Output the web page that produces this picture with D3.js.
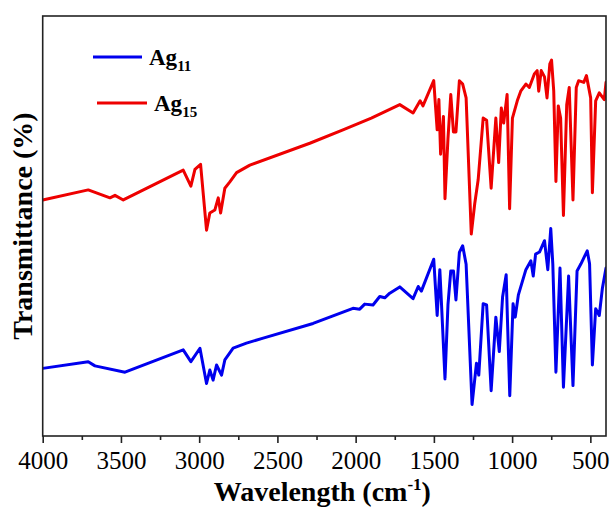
<!DOCTYPE html>
<html>
<head>
<meta charset="utf-8">
<script src="https://cdn.jsdelivr.net/npm/d3@7"></script>
<style>
  html, body { margin: 0; padding: 0; background: #fff; }
  svg { display: block; }
  text { font-family: "Liberation Serif", "Times New Roman", serif; fill: #000; }
</style>
</head>
<body>
<svg id="chart" width="613" height="509"></svg>
<script>
// FTIR spectra of the two silver clusters (offset transmittance, a.u.)
const wavenumbersAg15 = [4000, 3709, 3570, 3538, 3485, 3102, 3053, 3027, 2991, 2953, 2932, 2900, 2878, 2863, 2836, 2804, 2761, 2676, 2293, 2081, 1900, 1718, 1633, 1588, 1570, 1501, 1479, 1468, 1457, 1439, 1429, 1410, 1392, 1375, 1359, 1337, 1316, 1294, 1261, 1239, 1217, 1185, 1163, 1134, 1104, 1086, 1069, 1054, 1032, 1016, 998, 967, 945, 912, 890, 858, 840, 830, 814, 793, 777, 759, 748, 734, 720, 705, 690, 672, 651, 635, 611, 590, 575, 542, 525, 498, 487, 466, 443, 411, 400];
const transmittanceAg15 = [56.2, 58.6, 56.7, 57.3, 56.2, 63.3, 59.5, 63.5, 64.7, 49.0, 53.1, 53.8, 56.7, 53.1, 59.0, 60.5, 62.7, 64.5, 69.7, 72.9, 75.7, 78.9, 76.9, 79.8, 78.6, 84.6, 72.9, 80.1, 67.1, 76.1, 56.5, 70.8, 81.3, 72.4, 72.4, 84.6, 83.8, 80.5, 48.1, 55.3, 61.0, 75.7, 75.2, 59.0, 75.7, 65.1, 78.1, 74.5, 81.3, 54.1, 75.7, 79.8, 82.1, 83.8, 83.0, 86.2, 87.0, 82.1, 87.0, 85.5, 80.5, 88.6, 89.5, 82.1, 60.6, 78.6, 75.7, 52.5, 78.9, 83.0, 56.2, 83.0, 84.6, 84.2, 85.8, 80.5, 57.9, 79.8, 81.7, 80.1, 84.2];

const wavenumbersAg11 = [4000, 3709, 3666, 3474, 3102, 3053, 2995, 2953, 2932, 2911, 2889, 2857, 2836, 2783, 2698, 2591, 2272, 2017, 1974, 1942, 1889, 1846, 1814, 1782, 1718, 1633, 1600, 1580, 1501, 1479, 1462, 1451, 1429, 1410, 1392, 1375, 1359, 1337, 1316, 1294, 1256, 1228, 1213, 1185, 1163, 1134, 1104, 1082, 1061, 1038, 1030, 1015, 994, 980, 960, 912, 880, 865, 850, 825, 793, 772, 753, 740, 720, 694, 672, 639, 611, 585, 560, 520, 505, 487, 466, 443, 423, 400];
const transmittanceAg11 = [16.1, 17.7, 16.7, 15.2, 20.5, 17.7, 20.9, 12.5, 15.7, 13.3, 16.9, 14.5, 18.1, 20.9, 22.1, 23.3, 26.8, 30.4, 30.2, 31.4, 31.2, 33.2, 32.9, 34.0, 35.5, 32.7, 35.6, 34.5, 42.1, 28.7, 39.6, 31.2, 13.6, 31.2, 39.3, 39.3, 32.4, 43.7, 45.3, 40.9, 7.5, 17.3, 14.5, 31.5, 31.2, 10.8, 28.3, 20.1, 33.1, 38.4, 27.9, 9.6, 31.5, 28.3, 33.6, 39.6, 41.7, 38.1, 43.3, 43.8, 46.5, 39.6, 49.4, 41.0, 15.2, 40.0, 11.6, 38.1, 12.0, 39.3, 41.0, 44.1, 41.0, 16.9, 30.3, 28.7, 35.2, 40.0];

const seriesNames = ["Ag11", "Ag15"];
const seriesColors = ["#0000ee", "#ee0000"];
const xTickValues = [4000, 3500, 3000, 2500, 2000, 1500, 1000, 500];
const xMinorTickValues = [3750, 3250, 2750, 2250, 1750, 1250, 750];

const svg = d3.select("#chart");
const margin = { left: 42.7, right: 7, top: 16, bottom: 73 };
const W = 613, H = 509;
const plotW = W - margin.left - margin.right;
const plotH = H - margin.top - margin.bottom;

const x = d3.scaleLinear().domain([4000, 400]).range([margin.left, margin.left + plotW]);
const y = d3.scaleLinear().domain([0, 100]).range([margin.top + plotH, margin.top]);

svg.append("defs").append("clipPath").attr("id", "plotClip")
  .append("rect").attr("x", margin.left).attr("y", margin.top)
  .attr("width", plotW).attr("height", plotH);

const line = d3.line().x(d => x(d[0])).y(d => y(d[1]));

const series = [
  { name: seriesNames[0], color: seriesColors[0], data: d3.zip(wavenumbersAg11, transmittanceAg11) },
  { name: seriesNames[1], color: seriesColors[1], data: d3.zip(wavenumbersAg15, transmittanceAg15) }
];

const plot = svg.append("g").attr("clip-path", "url(#plotClip)");
series.forEach(s => {
  plot.append("path")
    .datum(s.data)
    .attr("d", line)
    .attr("fill", "none")
    .attr("stroke", s.color)
    .attr("stroke-width", 3)
    .attr("stroke-linejoin", "round")
    .attr("stroke-linecap", "round");
});

// frame
svg.append("rect")
  .attr("x", margin.left).attr("y", margin.top)
  .attr("width", plotW).attr("height", plotH)
  .attr("fill", "none").attr("stroke", "#222").attr("stroke-width", 1.6);

// bottom axis
const xAxis = d3.axisBottom(x).tickValues(xTickValues).tickSize(7).tickSizeOuter(0).tickPadding(8)
  .tickFormat(d3.format("d"));
const gx = svg.append("g").attr("transform", `translate(0,${margin.top + plotH})`).call(xAxis);
gx.select(".domain").remove();
gx.selectAll(".tick line").attr("stroke", "#222").attr("stroke-width", 1.6);
gx.selectAll(".tick text").attr("font-size", 25).attr("font-family", "Liberation Serif");

const xMinor = d3.axisBottom(x).tickValues(xMinorTickValues).tickSize(4).tickFormat("");
const gxm = svg.append("g").attr("transform", `translate(0,${margin.top + plotH})`).call(xMinor);
gxm.select(".domain").remove();
gxm.selectAll(".tick line").attr("stroke", "#222").attr("stroke-width", 1.6);

// axis titles
const xt = svg.append("text")
  .attr("x", margin.left + plotW / 2 - 2).attr("y", 501)
  .attr("text-anchor", "middle").attr("font-size", 28).attr("font-weight", "bold");
xt.append("tspan").text("Wavelength (cm");
xt.append("tspan").attr("font-size", 17).attr("dy", -11).text("-1");
xt.append("tspan").attr("dy", 11).text(")");

svg.append("text")
  .attr("transform", `translate(32,${margin.top + plotH / 2}) rotate(-90)`)
  .attr("text-anchor", "middle").attr("font-size", 28).attr("font-weight", "bold")
  .text("Transmittance (%)");

// legend
const legendY = [57, 103];
const legendX = [[93, 142], [97, 147]];
series.forEach((s, i) => {
  svg.append("line")
    .attr("x1", legendX[i][0]).attr("x2", legendX[i][1])
    .attr("y1", legendY[i]).attr("y2", legendY[i])
    .attr("stroke", s.color).attr("stroke-width", 3);
  const t = svg.append("text")
    .attr("x", legendX[i][1] + 7).attr("y", legendY[i] + 8)
    .attr("font-size", 23).attr("font-weight", "bold");
  t.append("tspan").text(s.name.slice(0, 2));
  t.append("tspan").attr("font-size", 15).attr("dy", 6).text(s.name.slice(2));
});
</script>
</body>
</html>
